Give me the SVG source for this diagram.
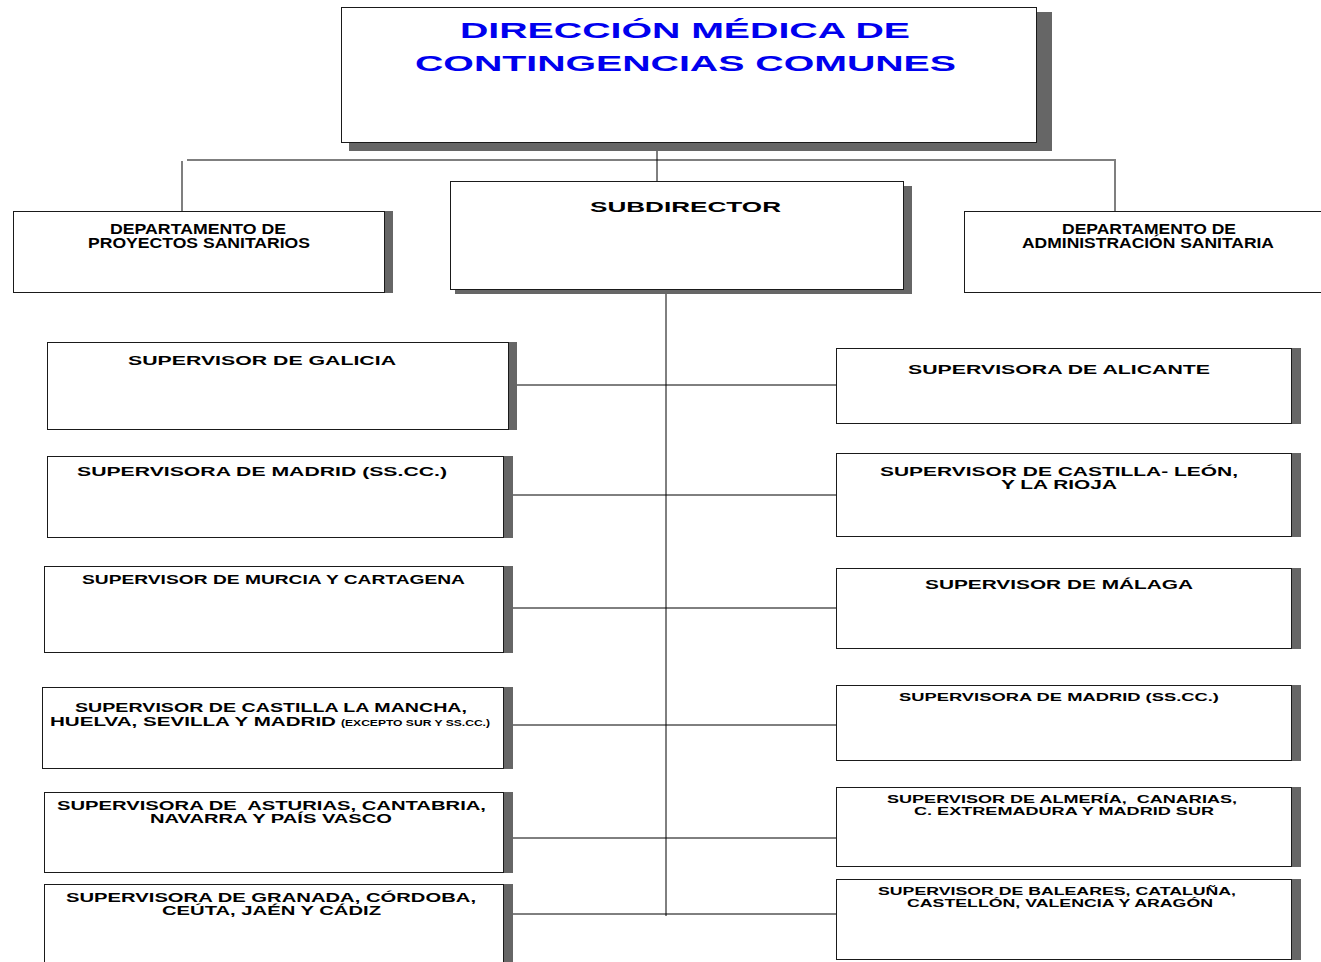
<svg xmlns="http://www.w3.org/2000/svg" width="1321" height="962" viewBox="0 0 1321 962">
<style>
.bg{fill:#ffffff}
.box{fill:#ffffff;stroke:#1a1a1a;stroke-width:1}
.sh{fill:#666666}
.t{font-family:"Liberation Sans",Arial,sans-serif;font-weight:bold;fill:#000000}
.pre{white-space:pre}
.title{font-size:22px;fill:#0000ee}
.f14{font-size:14px}
.f15{font-size:15px}
.f12{font-size:12px}
.f11{font-size:11px}
.f8{font-size:8.5px}
.gl{stroke:#7f7f7f;stroke-width:2;fill:none}
.bl{stroke:#000000;stroke-width:1;fill:none}
</style>
<rect class="bg" x="0" y="0" width="1321" height="962"/>

<g id="connectors">
  <line class="gl" x1="187" y1="160" x2="1116" y2="160"/>
  <line class="gl" x1="182" y1="161" x2="182" y2="211"/>
  <line class="gl" x1="1115" y1="160" x2="1115" y2="211"/>
  <line class="bl" x1="657" y1="150" x2="657" y2="181"/>
  <line class="bl" x1="666" y1="294" x2="666" y2="916"/>
  <line class="bl" x1="517" y1="385" x2="840" y2="385"/>
  <line class="bl" x1="513" y1="495" x2="840" y2="495"/>
  <line class="bl" x1="505" y1="608" x2="842" y2="608"/>
  <line class="bl" x1="513" y1="725" x2="842" y2="725"/>
  <line class="bl" x1="513" y1="838" x2="836" y2="838"/>
  <line class="bl" x1="505" y1="914" x2="836" y2="914"/>
</g>

<g id="direccion">
  <rect class="sh" x="349" y="12" width="703" height="139"/>
  <rect class="box" x="341.5" y="7.5" width="695" height="135"/>
  <text class="t title" x="460" y="38" textLength="450" lengthAdjust="spacingAndGlyphs">DIRECCIÓN MÉDICA DE</text>
  <text class="t title" x="415" y="71" textLength="541" lengthAdjust="spacingAndGlyphs">CONTINGENCIAS COMUNES</text>
</g>

<g id="dept-proyectos">
  <rect class="sh" x="385" y="211" width="8" height="82"/>
  <rect class="box" x="13.5" y="211.5" width="371" height="81"/>
  <text class="t f14" x="110" y="234" textLength="176" lengthAdjust="spacingAndGlyphs">DEPARTAMENTO DE</text>
  <text class="t f14" x="88" y="248" textLength="222" lengthAdjust="spacingAndGlyphs">PROYECTOS SANITARIOS</text>
</g>

<g id="subdirector">
  <rect class="sh" x="455" y="186" width="457" height="108"/>
  <rect class="box" x="450.5" y="181.5" width="453" height="108"/>
  <text class="t f15" x="590" y="212" textLength="191" lengthAdjust="spacingAndGlyphs">SUBDIRECTOR</text>
</g>

<g id="dept-administracion">
  <rect class="box" x="964.5" y="211.5" width="370" height="81"/>
  <text class="t f14" x="1062" y="234" textLength="174" lengthAdjust="spacingAndGlyphs">DEPARTAMENTO DE</text>
  <text class="t f14" x="1022" y="248" textLength="252" lengthAdjust="spacingAndGlyphs">ADMINISTRACIÓN SANITARIA</text>
</g>

<g id="sup-galicia">
  <rect class="sh" x="509" y="342" width="8" height="88"/>
  <rect class="box" x="47.5" y="342.5" width="461" height="87"/>
  <text class="t f12" x="128" y="365" textLength="268" lengthAdjust="spacingAndGlyphs">SUPERVISOR DE GALICIA</text>
</g>

<g id="sup-madrid-ss">
  <rect class="sh" x="504" y="456" width="9" height="82"/>
  <rect class="box" x="47.5" y="456.5" width="456" height="81"/>
  <text class="t f12" x="77" y="476" textLength="370" lengthAdjust="spacingAndGlyphs">SUPERVISORA DE MADRID (SS.CC.)</text>
</g>

<g id="sup-murcia">
  <rect class="sh" x="504" y="566" width="9" height="87"/>
  <rect class="box" x="44.5" y="566.5" width="459" height="86"/>
  <text class="t f12" x="82" y="584" textLength="383" lengthAdjust="spacingAndGlyphs">SUPERVISOR DE MURCIA Y CARTAGENA</text>
</g>

<g id="sup-castilla-mancha">
  <rect class="sh" x="504" y="687" width="9" height="82"/>
  <rect class="box" x="42.5" y="687.5" width="461" height="81"/>
  <text class="t f12" x="75" y="712" textLength="392" lengthAdjust="spacingAndGlyphs">SUPERVISOR DE CASTILLA LA MANCHA,</text>
  <text class="t f12" x="50" y="726" textLength="286" lengthAdjust="spacingAndGlyphs">HUELVA, SEVILLA Y MADRID</text>
  <text class="t f8" x="341" y="726" textLength="149" lengthAdjust="spacingAndGlyphs">(EXCEPTO SUR Y SS.CC.)</text>
</g>

<g id="sup-asturias">
  <rect class="sh" x="504" y="792" width="9" height="81"/>
  <rect class="box" x="44.5" y="792.5" width="459" height="80"/>
  <text class="t f12 pre" xml:space="preserve" x="57" y="810" textLength="429" lengthAdjust="spacingAndGlyphs">SUPERVISORA DE  ASTURIAS, CANTABRIA,</text>
  <text class="t f12" x="150" y="823" textLength="242" lengthAdjust="spacingAndGlyphs">NAVARRA Y PAÍS VASCO</text>
</g>

<g id="sup-granada">
  <rect class="sh" x="504" y="884" width="9" height="90"/>
  <rect class="box" x="44.5" y="884.5" width="459" height="90"/>
  <text class="t f12" x="66" y="902" textLength="410" lengthAdjust="spacingAndGlyphs">SUPERVISORA DE GRANADA, CÓRDOBA,</text>
  <text class="t f12" x="162" y="915" textLength="219" lengthAdjust="spacingAndGlyphs">CEÚTA, JAÉN Y CÁDIZ</text>
</g>

<g id="sup-alicante">
  <rect class="sh" x="1292" y="348" width="9" height="76"/>
  <rect class="box" x="836.5" y="348.5" width="455" height="75"/>
  <text class="t f12" x="908" y="374" textLength="302" lengthAdjust="spacingAndGlyphs">SUPERVISORA DE ALICANTE</text>
</g>

<g id="sup-castilla-leon">
  <rect class="sh" x="1292" y="453" width="9" height="84"/>
  <rect class="box" x="836.5" y="453.5" width="455" height="83"/>
  <text class="t f12" x="880" y="476" textLength="358" lengthAdjust="spacingAndGlyphs">SUPERVISOR DE CASTILLA- LEÓN,</text>
  <text class="t f12" x="1001" y="489" textLength="116" lengthAdjust="spacingAndGlyphs">Y LA RIOJA</text>
</g>

<g id="sup-malaga">
  <rect class="sh" x="1292" y="568" width="9" height="81"/>
  <rect class="box" x="836.5" y="568.5" width="455" height="80"/>
  <text class="t f12" x="925" y="589" textLength="268" lengthAdjust="spacingAndGlyphs">SUPERVISOR DE MÁLAGA</text>
</g>

<g id="sup-madrid-ss-2">
  <rect class="sh" x="1292" y="685" width="9" height="76"/>
  <rect class="box" x="836.5" y="685.5" width="455" height="75"/>
  <text class="t f11" x="899" y="701" textLength="320" lengthAdjust="spacingAndGlyphs">SUPERVISORA DE MADRID (SS.CC.)</text>
</g>

<g id="sup-almeria">
  <rect class="sh" x="1292" y="787" width="9" height="80"/>
  <rect class="box" x="836.5" y="787.5" width="455" height="79"/>
  <text class="t f11 pre" xml:space="preserve" x="887" y="803" textLength="350" lengthAdjust="spacingAndGlyphs">SUPERVISOR DE ALMERÍA,  CANARIAS,</text>
  <text class="t f11" x="914" y="815" textLength="300" lengthAdjust="spacingAndGlyphs">C. EXTREMADURA Y MADRID SUR</text>
</g>

<g id="sup-baleares">
  <rect class="sh" x="1292" y="879" width="9" height="81"/>
  <rect class="box" x="836.5" y="879.5" width="455" height="80"/>
  <text class="t f11" x="878" y="895" textLength="358" lengthAdjust="spacingAndGlyphs">SUPERVISOR DE BALEARES, CATALUÑA,</text>
  <text class="t f11" x="907" y="907" textLength="306" lengthAdjust="spacingAndGlyphs">CASTELLÓN, VALENCIA Y ARAGÓN</text>
</g>
</svg>
